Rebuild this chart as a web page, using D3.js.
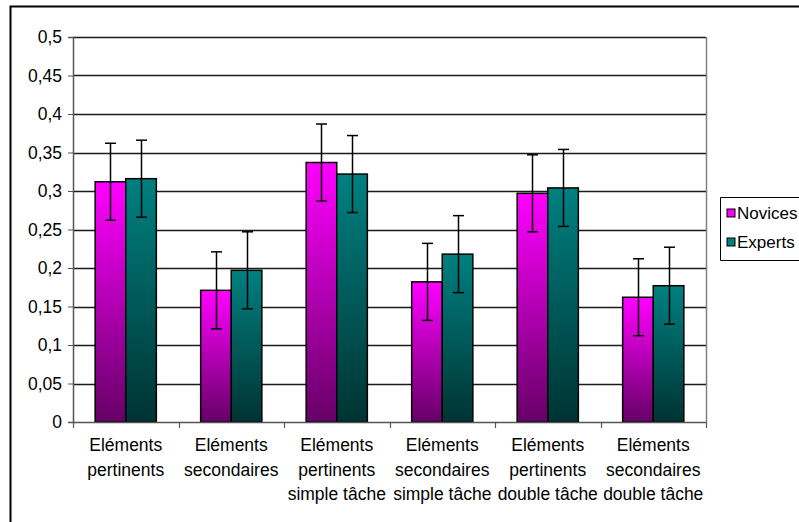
<!DOCTYPE html>
<html>
<head>
<meta charset="utf-8">
<script src="https://cdn.jsdelivr.net/npm/d3@7"></script>
<style>
  body { margin: 0; background: #fff; overflow: hidden; }
  svg { display: block; font-family: "Liberation Sans", Arial, sans-serif; }
</style>
</head>
<body>
<div id="chart"></div>
<script>
// data
const categories = [
    ["Eléments", "pertinents"],
    ["Eléments", "secondaires"],
    ["Eléments", "pertinents", "simple tâche"],
    ["Eléments", "secondaires", "simple tâche"],
    ["Eléments", "pertinents", "double tâche"],
    ["Eléments", "secondaires", "double tâche"]
];
const seriesNames = ["Novices", "Experts"];
const novices = [0.312, 0.171, 0.337, 0.182, 0.297, 0.162];
const experts = [0.316, 0.197, 0.322, 0.218, 0.304, 0.177];
const novicesErr = [0.05, 0.05, 0.05, 0.05, 0.05, 0.05];
const expertsErr = [0.05, 0.05, 0.05, 0.05, 0.05, 0.05];
const yTicks = [0, 0.05, 0.1, 0.15, 0.2, 0.25, 0.3, 0.35, 0.4, 0.45, 0.5];

const width = 799, height = 522;
const margin = { top: 37, right: 93, bottom: 100, left: 73 };
const innerWidth = width - margin.left - margin.right;
const innerHeight = height - margin.top - margin.bottom;

const svg = d3.select("#chart").append("svg")
    .attr("width", width)
    .attr("height", height);

// gradients (top bright, bottom dark)
const defs = svg.append("defs");
const gradColors = [["#ff00ff", "#660066"], ["#008080", "#003333"]];
gradColors.forEach((c, i) => {
    const lg = defs.append("linearGradient")
        .attr("id", "grad" + i)
        .attr("x1", 0).attr("y1", 0).attr("x2", 0).attr("y2", 1);
    lg.append("stop").attr("offset", "0%").attr("stop-color", c[0]);
    lg.append("stop").attr("offset", "100%").attr("stop-color", c[1]);
});

// outer frame (right and bottom sides fall outside the picture)
svg.append("path")
    .attr("d", `M10.5,${height}V6.5H${width}`)
    .attr("fill", "none")
    .attr("stroke", "#000")
    .attr("stroke-width", 2);

const g = svg.append("g")
    .attr("transform", `translate(${margin.left},${margin.top})`);

const x = d3.scaleBand()
    .domain(d3.range(categories.length))
    .range([0, innerWidth]);

const y = d3.scaleLinear()
    .domain([0, 0.5])
    .range([innerHeight, 0]);

// horizontal grid lines
g.append("g")
    .selectAll("line")
    .data(yTicks.filter(d => d > 0))
    .enter()
    .append("line")
    .attr("x1", 0)
    .attr("x2", innerWidth)
    .attr("y1", d => Math.round(y(d)) + 0.5)
    .attr("y2", d => Math.round(y(d)) + 0.5)
    .attr("stroke", "#1a1a1a")
    .attr("stroke-width", 1.3);

// right border of plot area
g.append("line")
    .attr("x1", innerWidth + 0.5).attr("x2", innerWidth + 0.5)
    .attr("y1", 0).attr("y2", innerHeight)
    .attr("stroke", "#808080")
    .attr("stroke-width", 1.5);

// bars
const groupWidth = x.bandwidth() * 0.58;
const xs = d3.scaleBand()
    .domain([0, 1])
    .range([0, groupWidth]);

const series = [
    { values: novices, err: novicesErr },
    { values: experts, err: expertsErr }
];

series.forEach((s, si) => {
    const off = (x.bandwidth() - groupWidth) / 2 + xs(si);
    g.append("g")
        .selectAll("rect")
        .data(s.values)
        .enter()
        .append("rect")
        .attr("x", (d, i) => x(i) + off)
        .attr("y", d => y(d))
        .attr("width", xs.bandwidth())
        .attr("height", d => innerHeight - y(d))
        .attr("fill", `url(#grad${si})`)
        .attr("stroke", "#000")
        .attr("stroke-width", 1.5);
});

// error bars
series.forEach((s, si) => {
    const off = (x.bandwidth() - groupWidth) / 2 + xs(si) + xs.bandwidth() / 2;
    const eg = g.append("g");
    s.values.forEach((v, i) => {
        const cx = Math.round(x(i) + off) + 0.5;
        const top = y(v + s.err[i]);
        const bot = y(v - s.err[i]);
        eg.append("line")
            .attr("x1", cx).attr("x2", cx)
            .attr("y1", top).attr("y2", bot)
            .attr("stroke", "#000").attr("stroke-width", 1.5);
        [top, bot].forEach(yy => {
            eg.append("line")
                .attr("x1", cx - 5.5).attr("x2", cx + 5.5)
                .attr("y1", yy).attr("y2", yy)
                .attr("stroke", "#000").attr("stroke-width", 1.5);
        });
    });
});

// y axis
const yAxis = d3.axisLeft(y)
    .tickValues(yTicks)
    .tickFormat(d => String(d).replace(".", ","))
    .tickSize(5)
    .tickPadding(6);

const yg = g.append("g").call(yAxis);
yg.attr("font-family", null);
yg.select(".domain").attr("stroke", "#555").attr("stroke-width", 1.5);
yg.selectAll(".tick line").attr("stroke", "#555");
yg.selectAll("text")
    .style("font-size", "17.5px")
    .style("fill", "#000");

// x axis line and ticks at category boundaries
g.append("line")
    .attr("x1", 0).attr("x2", innerWidth)
    .attr("y1", innerHeight + 0.5).attr("y2", innerHeight + 0.5)
    .attr("stroke", "#555")
    .attr("stroke-width", 1.5);

g.append("g")
    .selectAll("line")
    .data(d3.range(categories.length + 1))
    .enter()
    .append("line")
    .attr("x1", d => Math.round(d * x.step()) + 0.5)
    .attr("x2", d => Math.round(d * x.step()) + 0.5)
    .attr("y1", innerHeight)
    .attr("y2", innerHeight + 6)
    .attr("stroke", "#555")
    .attr("stroke-width", 1.2);

// category labels
const labels = g.append("g")
    .selectAll("text")
    .data(categories)
    .enter()
    .append("text")
    .attr("x", (d, i) => x(i) + x.bandwidth() / 2)
    .attr("y", innerHeight + 29)
    .attr("text-anchor", "middle")
    .style("font-size", "17.5px")
    .style("fill", "#000");

labels.selectAll("tspan")
    .data(d => d)
    .enter()
    .append("tspan")
    .attr("x", function () { return d3.select(this.parentNode).attr("x"); })
    .attr("dy", (d, i) => i === 0 ? 0 : 24.5)
    .text(d => d);

// legend (box runs past the right edge, as in the reference)
const legend = svg.append("g")
    .attr("transform", "translate(720,197)");

legend.append("path")
    .attr("d", `M${width - 720},0.5H0.5V63.5H${width - 720}`)
    .attr("fill", "#fff")
    .attr("stroke", "#000")
    .attr("stroke-width", 1);

seriesNames.forEach((name, i) => {
    legend.append("rect")
        .attr("x", 7).attr("y", 12 + i * 29)
        .attr("width", 8).attr("height", 8)
        .attr("fill", gradColors[i][0])
        .attr("stroke", "#000")
        .attr("stroke-width", 1);
    legend.append("text")
        .attr("x", 17)
        .attr("y", 22 + i * 29)
        .style("font-size", "17px")
        .style("fill", "#000")
        .text(name);
});
</script>
</body>
</html>
